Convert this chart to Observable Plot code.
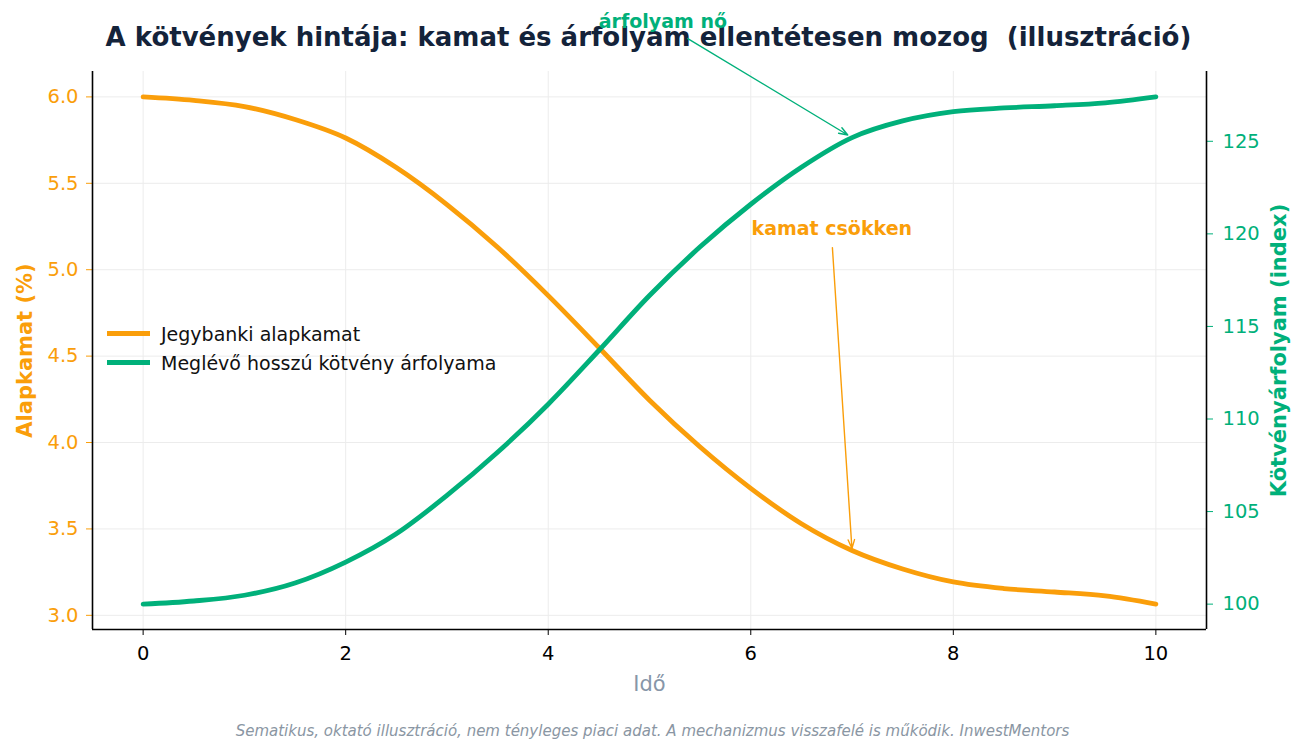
<!DOCTYPE html>
<html>
<head>
<meta charset="utf-8">
<script src="https://cdn.jsdelivr.net/npm/d3@7"></script>
<script src="https://cdn.jsdelivr.net/npm/@observablehq/plot@0.6"></script>
<style>
  html, body { margin: 0; padding: 0; background: #fff; }
  body { font-family: "DejaVu Sans", sans-serif; }
  #wrap { position: relative; width: 1305px; height: 755px; overflow: hidden; }
  #title { position: absolute; left: -4px; top: 21px; width: 1305px; text-align: center; line-height: 32px;
           font-size: 26px; font-weight: bold; color: #14233a; white-space: pre; }
  #chart { position: absolute; left: 0; top: 0; }
  #legend { position: absolute; left: 107px; top: 319px; font-size: 19px; color: #111; }
  .lg-row { display: flex; align-items: center; height: 29px; }
  .lg-sw { width: 43px; height: 5px; margin-right: 11px; }
  #caption { position: absolute; left: 0; width: 1305px; top: 721px; line-height: 20px; text-align: center;
             font-size: 15px; font-style: italic; color: #8a96a3; }
</style>
</head>
<body>
<div id="wrap">
  <div id="title"></div>
  <div id="chart"></div>
  <div id="legend"></div>
  <div id="caption"></div>
</div>
<script>
// ---- data ----
const titleText = "A kötvények hintája: kamat és árfolyam ellentétesen mozog  (illusztráció)";
const captionText = "Sematikus, oktató illusztráció, nem tényleges piaci adat. A mechanizmus visszafelé is működik. InwestMentors";
const seriesNames = ["Jegybanki alapkamat", "Meglévő hosszú kötvény árfolyama"];
const time = [0, 0.5, 1, 1.5, 2, 2.5, 3, 3.5, 4, 4.5, 5, 5.5, 6, 6.5, 7, 7.5, 8, 8.5, 9, 9.5, 10];
const rate = [6.00, 5.98, 5.944, 5.869, 5.762, 5.591, 5.377, 5.13, 4.85, 4.55, 4.245, 3.974, 3.735, 3.53, 3.375, 3.268, 3.193, 3.155, 3.135, 3.112, 3.065];
const price = [100.0, 100.17, 100.48, 101.14, 102.27, 103.8, 105.87, 108.2, 110.8, 113.7, 116.67, 119.3, 121.6, 123.6, 125.2, 126.1, 126.6, 126.8, 126.92, 127.08, 127.4];
const xTicks = [0, 2, 4, 6, 8, 10];
const leftTicks = [3.0, 3.5, 4.0, 4.5, 5.0, 5.5, 6.0];
const rightTicks = [100, 105, 110, 115, 120, 125];
const xLabel = "Idő";
const leftLabel = "Alapkamat (%)";
const rightLabel = "Kötvényárfolyam (index)";
// annotations: text position and arrow start/end in data units
const rateNote = {text: "kamat csökken", tx: 6.8, ty: 5.234, x1: 6.806, y1: 5.128, x2: 7, y2: 3.375};
const priceNote = {text: "árfolyam nő", tx: 5.132, ty: 131.46, x1: 5.378, y1: 130.55, x2: 7, y2: 125.2};

// ---- styling ----
const ORANGE = "#fa9e0a";
const GREEN = "#00b07a";
const FONT = "DejaVu Sans, sans-serif";
const TICK = 19.5;
const xDomain = [-0.5, 10.5];
const leftDomain = [2.918, 6.147];
const rightDomain = [98.63, 128.77];
const r2l = d3.scaleLinear().domain(rightDomain).range(leftDomain);
const l2r = r2l.invert;

const rows = time.map((t, i) => ({t, rate: rate[i], price: price[i]}));

document.getElementById("title").textContent = titleText;
document.getElementById("caption").textContent = captionText;
const lg = document.getElementById("legend");
[[seriesNames[0], ORANGE], [seriesNames[1], GREEN]].forEach(([n, c]) => {
  const row = document.createElement("div");
  row.className = "lg-row";
  const sw = document.createElement("div");
  sw.className = "lg-sw"; sw.style.background = c;
  const tx = document.createElement("span");
  tx.textContent = n;
  row.appendChild(sw); row.appendChild(tx);
  lg.appendChild(row);
});

const chart = Plot.plot({
  width: 1305,
  height: 755,
  marginTop: 71,
  marginBottom: 126,
  marginLeft: 92,
  marginRight: 99,
  style: {background: "transparent", fontFamily: FONT, overflow: "visible"},
  x: {domain: xDomain},
  y: {domain: leftDomain},
  marks: [
    Plot.gridX(xTicks, {stroke: "#ececec", strokeOpacity: 1, strokeWidth: 1}),
    Plot.gridY(leftTicks, {stroke: "#ececec", strokeOpacity: 1, strokeWidth: 1}),
    Plot.line(rows, {x: "t", y: "rate", stroke: ORANGE, strokeWidth: 4.8, curve: "monotone-x"}),
    Plot.line(rows, {x: "t", y: d => r2l(d.price), stroke: GREEN, strokeWidth: 4.8, curve: "monotone-x"}),
    Plot.axisX({ticks: xTicks, tickSize: 6, tickPadding: 11, fontSize: TICK, label: null, color: "#000", tickFormat: d3.format("d")}),
    Plot.axisY({anchor: "left", ticks: leftTicks, tickSize: 6, tickPadding: 8, fontSize: TICK, label: null, color: ORANGE, tickFormat: d3.format(".1f")}),
    Plot.axisY({anchor: "right", ticks: rightTicks.map(r2l), tickSize: 6, tickPadding: 10, fontSize: TICK, label: null, color: GREEN, tickFormat: d => String(Math.round(l2r(d)))}),
    Plot.ruleX([xDomain[0], xDomain[1]], {stroke: "#000", strokeWidth: 1.6}),
    Plot.ruleY([leftDomain[0]], {stroke: "#000", strokeWidth: 1.6}),
    Plot.text([leftLabel], {frameAnchor: "left", dx: -67, rotate: -90, textAnchor: "middle", text: d => d, fill: ORANGE, fontSize: 21, fontWeight: "bold"}),
    Plot.text([rightLabel], {frameAnchor: "right", dx: 73, rotate: -90, textAnchor: "middle", text: d => d, fill: GREEN, fontSize: 21, fontWeight: "bold"}),
    Plot.text([xLabel], {frameAnchor: "bottom", dy: 61, text: d => d, fill: "#8796a8", fontSize: 21}),
    Plot.arrow([rateNote], {x1: "x1", y1: "y1", x2: "x2", y2: "y2", stroke: ORANGE, strokeWidth: 1.4, headLength: 10, headAngle: 40, bend: false, insetEnd: 2}),
    Plot.arrow([priceNote], {x1: "x1", y1: d => r2l(d.y1), x2: "x2", y2: d => r2l(d.y2), stroke: GREEN, strokeWidth: 1.4, headLength: 10, headAngle: 40, bend: false, insetEnd: 5}),
    Plot.text([rateNote], {x: "tx", y: "ty", text: "text", fill: ORANGE, fontSize: 19, fontWeight: "bold"}),
    Plot.text([priceNote], {x: "tx", y: d => r2l(d.ty), text: "text", fill: GREEN, fontSize: 19, fontWeight: "bold"})
  ]
});
document.getElementById("chart").appendChild(chart);
</script>
</body>
</html>
